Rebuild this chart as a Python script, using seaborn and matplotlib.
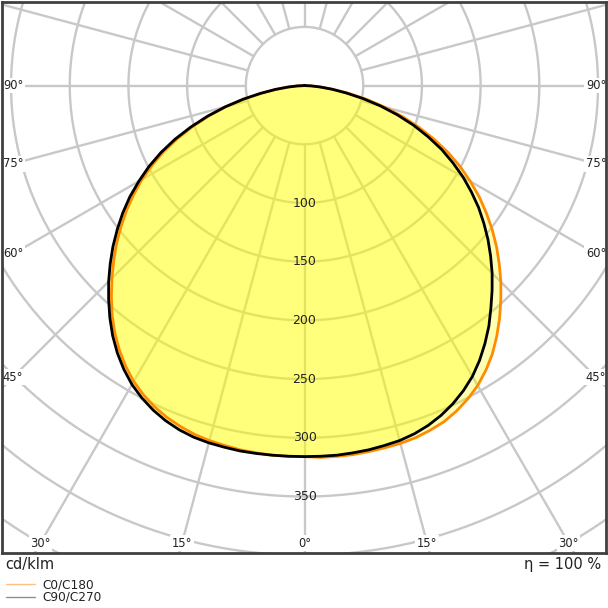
import numpy as np
import pandas as pd
import matplotlib
matplotlib.use("Agg")
import matplotlib.pyplot as plt
from matplotlib.lines import Line2D
import seaborn as sns

# luminous intensity (cd/klm) per gamma angle
gamma = [0, 2.5, 5, 7.5, 10, 12.5, 15, 17.5, 20, 22.5, 25, 27.5, 30, 32.5, 35, 37.5, 40,
         42.5, 45, 47.5, 50, 52.5, 55, 57.5, 60, 62.5, 65, 67.5, 70, 72.5, 75, 77.5, 80,
         82.5, 85, 87.5, 90]
c0 = [317, 317, 317, 317, 316.5, 316, 315.5, 314.5, 312.5, 310, 306, 301, 295, 287.5,
      279, 269, 258.5, 247.5, 236.5, 225, 213.5, 201.5, 189, 176.5, 163, 149.5, 135,
      119.5, 103.5, 87, 70.5, 54, 38.5, 25, 14, 6, 0]
c180 = [316, 316, 316, 315.5, 315, 314, 313, 311.5, 309, 306, 302, 297, 291, 283.5, 275,
        265.5, 255, 243.5, 232, 220.5, 209, 197, 185, 172.5, 160, 146, 132, 116.5, 101,
        85, 69, 53, 37, 24.5, 14, 6, 0]
c90 = [316, 316, 316, 315.5, 315, 314, 313, 311, 308, 304, 299, 293, 286, 277.5, 268, 258,
       247, 236.5, 226, 215, 204, 192.5, 181, 168.5, 156, 142.5, 129, 114, 99, 83, 67, 51,
       36, 23.5, 13, 5.5, 0]
c270 = [316, 316, 316, 316, 316, 315.5, 315, 314, 312, 309, 305, 300, 294, 286.5, 278,
        268.5, 258, 247, 236, 224.5, 213, 201, 189, 176.5, 163, 149.5, 135, 119.5, 103,
        86.5, 70, 53.5, 38, 25, 14, 6, 0]

rings = [50, 100, 150, 200, 250, 300, 350, 400, 450, 500, 550]
ring_labels = [100, 150, 200, 250, 300, 350]
side_angles = [90, 75, 60, 45]
bottom_angles = [30, 15, 0, 15, 30]
bottom_signs = [-1, -1, 0, 1, 1]


def outline(right, left):
    g = np.array(gamma, dtype=float)
    phi = np.r_[-g[::-1], g[1:]]
    r = np.r_[np.array(left)[::-1], np.array(right)[1:]]
    t = np.radians(phi)
    return pd.DataFrame({"x": r * np.sin(t), "y": -r * np.cos(t)})


sns.set_style("white")
plt.rcParams["font.family"] = ["DejaVu Sans"]

W = 608
fig = plt.figure(figsize=(6.08, 6.08), dpi=100)
ax = fig.add_axes([2 / W, 1 - 553 / W, 604 / W, 551 / W])
x0, x1 = -257.7, 256.8
y0, y1 = -398.1, 71.2
ax.set_xlim(x0, x1)
ax.set_ylim(y0, y1)

grid_c = "#c8c8c8"
t = np.linspace(0, 2 * np.pi, 721)
for r in rings:
    ax.plot(r * np.cos(t), r * np.sin(t), color=grid_c, lw=1.7, zorder=1)
for a in range(0, 360, 15):
    ar = np.radians(a)
    ax.plot([50 * np.sin(ar), 700 * np.sin(ar)], [-50 * np.cos(ar), -700 * np.cos(ar)],
            color=grid_c, lw=1.7, zorder=1)

d_orange = outline(c0, c180)
d_black = outline(c90, c270)
ax.fill(d_orange["x"], d_orange["y"], color="#ffff00", alpha=0.3, lw=0, zorder=2)
ax.fill(d_black["x"], d_black["y"], color="#ffff00", alpha=0.3, lw=0, zorder=2)
sns.lineplot(data=d_orange, x="x", y="y", sort=False, estimator=None, color="#ff8c00",
             lw=2.0, ax=ax, zorder=3)
sns.lineplot(data=d_black, x="x", y="y", sort=False, estimator=None, color="black",
             lw=2.0, ax=ax, zorder=4)

for v in ring_labels:
    ax.text(0, -v, str(v), ha="center", va="center", fontsize=9, color="#222222", zorder=5)

xin = 8.5
for a in side_angles:
    yy = -(x1 - xin) / np.tan(np.radians(a)) if a != 90 else 0
    for s in (-1, 1):
        xx = s * (x1 - xin)
        ax.text(xx, yy, f"{a}°", ha="center", va="center", fontsize=8.3, color="#222222",
                bbox=dict(fc="white", ec="none", pad=1), zorder=5)
yb = y0 + 8.5
for a, s in zip(bottom_angles, bottom_signs):
    xx = s * abs(yb) * np.tan(np.radians(a))
    ax.text(xx, yb, f"{a}°", ha="center", va="center", fontsize=8.3, color="#222222",
            bbox=dict(fc="white", ec="none", pad=1), zorder=5)

ax.set_xticks([])
ax.set_yticks([])
ax.set_xlabel("")
ax.set_ylabel("")
for sp in ax.spines.values():
    sp.set_visible(True)
    sp.set_color("#404040")
    sp.set_linewidth(2)
    sp.set_zorder(6)

fig.text(5 / W, 1 - 564 / W, "cd/klm", ha="left", va="center", fontsize=10.5, color="#222222")
fig.text(601 / W, 1 - 564 / W, "η = 100 %", ha="right", va="center", fontsize=10.5, color="#222222")
fig.add_artist(Line2D([6 / W, 35 / W], [1 - 584 / W] * 2, color="#ffc080", lw=1))
fig.add_artist(Line2D([6 / W, 35 / W], [1 - 597 / W] * 2, color="#909090", lw=1))
fig.text(42 / W, 1 - 585 / W, "C0/C180", ha="left", va="center", fontsize=8.7, color="#222222")
fig.text(42 / W, 1 - 597.5 / W, "C90/C270", ha="left", va="center", fontsize=8.7, color="#222222")

fig.savefig("out.png", dpi=100, facecolor="white")
